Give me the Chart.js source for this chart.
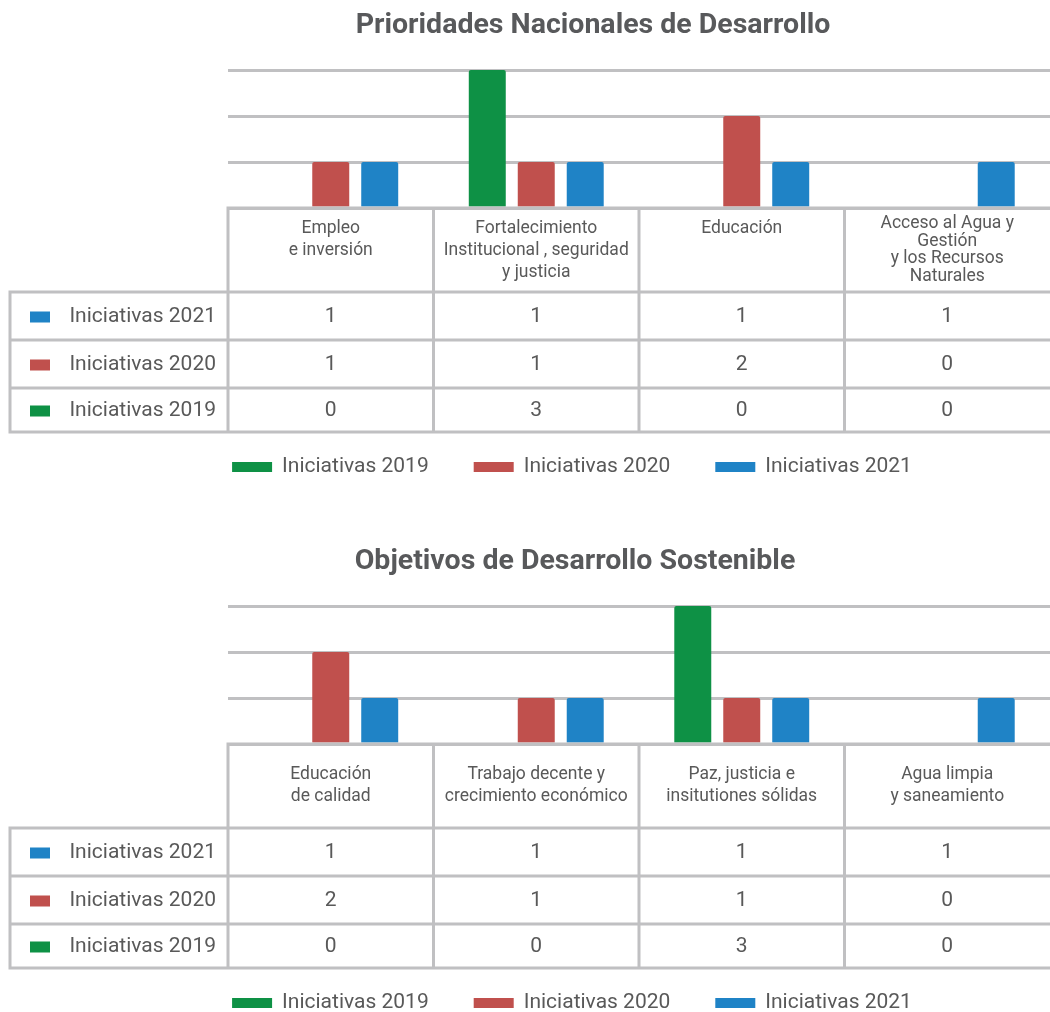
<!DOCTYPE html>
<html><head><meta charset="utf-8">
<script src="https://cdn.jsdelivr.net/npm/chart.js@4/dist/chart.umd.min.js"></script>
<style>
html,body{margin:0;padding:0;background:#fff;overflow:hidden;width:1050px;height:1012px;}
.wrap{position:absolute;left:0;width:1050px;height:506px;}
</style></head><body>
<div class="wrap" style="top:0"><canvas id="c1"></canvas></div>
<div class="wrap" style="top:536px"><canvas id="c2"></canvas></div>
<script>
// ---- data ----
const seriesNames = ['Iniciativas 2019', 'Iniciativas 2020', 'Iniciativas 2021'];
const seriesColors = ['#0e9145', '#c0504d', '#1f83c6'];
const yTicks = [0, 1, 2, 3];

const pndTitle = 'Prioridades Nacionales de Desarrollo';
const pndCategories = [['Empleo', 'e inversión'], ['Fortalecimiento', 'Institucional , seguridad', 'y justicia'], ['Educación'], ['Acceso al Agua y', 'Gestión', 'y los Recursos', 'Naturales']];
const pnd2019 = [0, 3, 0, 0];
const pnd2020 = [1, 1, 2, 0];
const pnd2021 = [1, 1, 1, 1];

const odsTitle = 'Objetivos de Desarrollo Sostenible';
const odsCategories = [['Educación', 'de calidad'], ['Trabajo decente y', 'crecimiento económico'], ['Paz, justicia e', 'insitutiones sólidas'], ['Agua limpia', 'y saneamiento']];
const ods2019 = [0, 0, 3, 0];
const ods2020 = [2, 1, 1, 0];
const ods2021 = [1, 1, 1, 1];

// ---- style / layout ----
const FONT = 'Roboto, "Noto Sans", sans-serif';
const TEXT = '#595959';
const LINE = '#c0c0c2';
const CANVAS_H = 506;
const AREA_TOP = 70, AREA_BOTTOM = 208, AREA_LEFT = 228;
const HEADER_H = 84, ROW_H = [48, 48, 44];
const TABLE_LEFT = 10;

const tablePlugin = {
  id: 'tablePlugin',
  afterDraw(chart, args, o) {
    const ctx = chart.ctx, xs = chart.scales.x, area = chart.chartArea;
    const cats = chart.data.labels;
    const n = cats.length;
    const half = (xs.getPixelForValue(1) - xs.getPixelForValue(0)) / 2;
    const bounds = [];
    for (let i = 0; i < n; i++) bounds.push(xs.getPixelForValue(i) - half);
    bounds.push(xs.getPixelForValue(n - 1) + half);
    const top = area.bottom;
    const hb = top + HEADER_H;
    const rowB = [hb]; ROW_H.forEach(h => rowB.push(rowB[rowB.length - 1] + h));
    const bottom = rowB[rowB.length - 1];

    ctx.save();
    // title
    ctx.fillStyle = '#58595b';
    ctx.font = 'bold 28.5px ' + FONT;
    ctx.textAlign = 'center'; ctx.textBaseline = 'middle';
    ctx.fillText(o.title, o.titleX, 26);

    // lines
    ctx.strokeStyle = LINE; ctx.lineWidth = 3; ctx.lineCap = 'square';
    ctx.beginPath();
    ctx.moveTo(bounds[0], top); ctx.lineTo(chart.width, top);
    rowB.forEach(y => { ctx.moveTo(TABLE_LEFT, y); ctx.lineTo(chart.width, y); });
    ctx.moveTo(TABLE_LEFT, hb); ctx.lineTo(TABLE_LEFT, bottom);
    for (let i = 0; i < n; i++) { ctx.moveTo(bounds[i], top); ctx.lineTo(bounds[i], bottom); }
    ctx.stroke();

    // category labels
    ctx.fillStyle = TEXT;
    ctx.font = '17.5px ' + FONT;
    ctx.textAlign = 'center'; ctx.textBaseline = 'middle';
    cats.forEach((lines, i) => {
      const cx = (bounds[i] + bounds[i + 1]) / 2;
      const lh = lines.length > 3 ? 17.5 : 22;
      let y0;
      if (o.valign === 'top' && lines.length <= 3) y0 = top + 21;
      else y0 = top + HEADER_H / 2 - (lines.length - 1) * lh / 2;
      lines.forEach((t, k) => ctx.fillText(t, cx, y0 + k * lh));
    });

    // rows (reverse series order)
    const ds = chart.data.datasets;
    for (let r = 0; r < ds.length; r++) {
      const d = ds[ds.length - 1 - r];
      const cy = (rowB[r] + rowB[r + 1]) / 2 + 1;
      ctx.fillStyle = d.backgroundColor;
      ctx.fillRect(30, cy - 5.5, 20, 11);
      ctx.fillStyle = TEXT;
      ctx.font = '21px ' + FONT;
      ctx.textAlign = 'right';
      ctx.fillText(d.label, 216, cy);
      ctx.textAlign = 'center';
      d.data.forEach((v, i) => ctx.fillText(String(v), (bounds[i] + bounds[i + 1]) / 2, cy));
    }

    // legend
    ctx.font = '21px ' + FONT;
    const boxW = 40, boxH = 10, gap = 10, spacing = 45;
    const widths = ds.map(d => boxW + gap + ctx.measureText(d.label).width);
    const total = widths.reduce((a, b) => a + b, 0) + spacing * (ds.length - 1);
    let x = o.legendX - total / 2;
    const ly = bottom + 35;
    ds.forEach((d, i) => {
      ctx.fillStyle = d.backgroundColor;
      ctx.fillRect(x, ly - boxH / 2, boxW, boxH);
      ctx.fillStyle = TEXT; ctx.textAlign = 'left';
      ctx.fillText(d.label, x + boxW + gap, ly);
      x += widths[i] + spacing;
    });
    ctx.restore();
  }
};

function makeChart(id, cats, s19, s20, s21, title, titleX, legendX, valign) {
  const series = [s19, s20, s21];
  return new Chart(document.getElementById(id), {
    type: 'bar',
    data: {
      labels: cats,
      datasets: series.map((s, i) => ({
        label: seriesNames[i], data: s, backgroundColor: seriesColors[i],
        borderWidth: 0, borderRadius: 2,
        barPercentage: 0.755, categoryPercentage: 0.715
      }))
    },
    options: {
      responsive: true, maintainAspectRatio: false, animation: false,
      layout: { padding: { left: AREA_LEFT, right: 0, top: AREA_TOP, bottom: CANVAS_H - AREA_BOTTOM } },
      plugins: {
        legend: { display: false }, tooltip: { enabled: false }, title: { display: false },
        tablePlugin: { title, titleX, legendX, valign }
      },
      scales: {
        x: { display: false },
        y: {
          min: yTicks[0], max: yTicks[yTicks.length - 1],
          afterBuildTicks: (sc) => { sc.ticks = yTicks.map(v => ({ value: v })); },
          afterFit: (sc) => { sc.width = 0; },
          ticks: { display: false },
          border: { display: false },
          grid: { color: LINE, lineWidth: 3, drawTicks: false }
        }
      }
    },
    plugins: [tablePlugin]
  });
}

makeChart('c1', pndCategories, pnd2019, pnd2020, pnd2021, pndTitle, 593, 572, 'top');
makeChart('c2', odsCategories, ods2019, ods2020, ods2021, odsTitle, 575, 572, 'middle');
</script>
</body></html>
